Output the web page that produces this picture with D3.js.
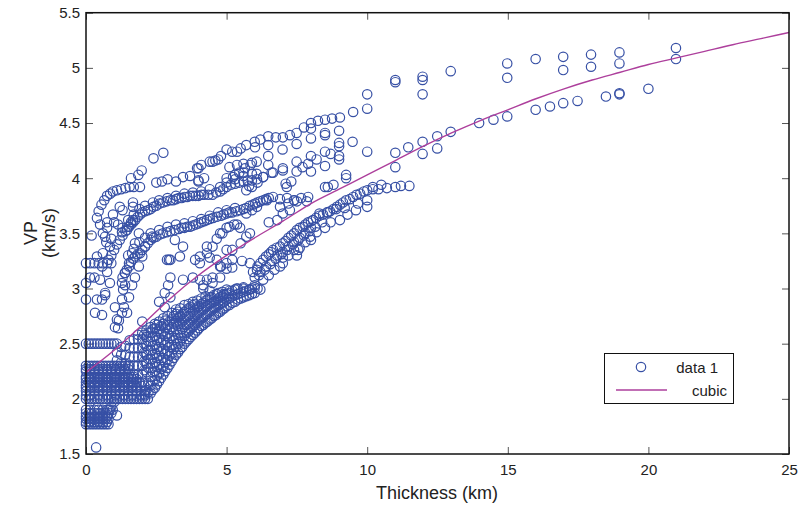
<!DOCTYPE html>
<html><head><meta charset="utf-8">
<script src="https://cdn.jsdelivr.net/npm/d3@7"></script>
<style>body{margin:0;background:#fff}svg{display:block}text{font-family:"Liberation Sans",Arial,Helvetica,sans-serif;fill:#222}</style>
</head><body><svg id="c" width="800" height="506"></svg>
<script>
// ---------- DATA ----------
const xTicks = [0, 5, 10, 15, 20, 25];
const yTicks = [1.5, 2, 2.5, 3, 3.5, 4, 4.5, 5, 5.5];
const legendLabels = ["data 1", "cubic"];

// horizontal rows of samples at small thickness
const bandRowsY = [3.23, 2.5, 2.3, 2.27, 2.25, 2.2, 2.18, 2.15, 2.12, 2.1, 2.07, 2.03, 2.0, 1.9, 1.87, 1.84, 1.82, 1.79, 1.77];
const bandRowsX = [
  [0, 0.15, 0.3, 0.45, 0.6, 0.75, 0.9],
  [0, 0.1, 0.2, 0.3, 0.4, 0.5, 0.6, 0.7, 0.8, 0.9, 1.0, 1.1],
  [0, 0.1, 0.2, 0.3, 0.4, 0.5, 0.6, 0.7, 0.8, 0.9, 1.0, 1.1, 1.2, 1.3, 1.4, 1.5],
  [0, 0.15, 0.3, 0.45, 0.6, 0.75, 0.9, 1.05, 1.2, 1.35, 1.5],
  [0, 0.15, 0.3, 0.45, 0.6, 0.75, 0.9, 1.05, 1.2],
  [0, 0.1, 0.2, 0.3, 0.4, 0.5, 0.6, 0.7, 0.8, 0.9, 1.0, 1.1, 1.2, 1.3, 1.4, 1.5, 1.6, 1.7],
  [0, 0.15, 0.3, 0.45, 0.6, 0.75, 0.9, 1.05, 1.2, 1.35, 1.5, 1.65, 1.8],
  [0, 0.1, 0.2, 0.3, 0.4, 0.5, 0.6, 0.7, 0.8, 0.9, 1.0, 1.1, 1.2, 1.3, 1.4, 1.5, 1.6, 1.7, 1.8, 1.9, 2.0],
  [0, 0.15, 0.3, 0.45, 0.6, 0.75, 0.9, 1.05, 1.2, 1.35, 1.5, 1.65, 1.8, 1.95],
  [0, 0.2, 0.4, 0.6, 0.8, 1.0, 1.2, 1.4, 1.6, 1.8],
  [0, 0.15, 0.3, 0.45, 0.6, 0.75, 0.9, 1.05, 1.2, 1.35, 1.5, 1.65, 1.8, 1.95, 2.1],
  [0, 0.15, 0.3, 0.45, 0.6, 0.75, 0.9, 1.05, 1.2, 1.35, 1.5, 1.65, 1.8, 1.95, 2.1],
  [0, 0.1, 0.2, 0.3, 0.4, 0.5, 0.6, 0.7, 0.8, 0.9, 1.0, 1.1, 1.2, 1.3, 1.4, 1.5, 1.6, 1.7, 1.8, 1.9, 2.0, 2.1, 2.2],
  [0, 0.15, 0.3, 0.45, 0.6, 0.75, 0.85],
  [0, 0.1, 0.2, 0.3, 0.4, 0.5, 0.6, 0.7, 0.8, 0.9],
  [0, 0.15, 0.3, 0.45, 0.6, 0.75],
  [0, 0.1, 0.2, 0.3, 0.4, 0.5, 0.6, 0.7, 0.8],
  [0, 0.15, 0.3, 0.45, 0.6, 0.75],
  [0, 0.1, 0.2, 0.3, 0.4, 0.5, 0.6, 0.7, 0.8]
];

// dense rising band: columns of samples
const slopeColX = [1.1, 1.25, 1.4, 1.55, 1.7, 1.85, 2.0, 2.15, 2.3, 2.45, 2.6, 2.75, 2.9, 3.05, 3.2, 3.35, 3.5, 3.65, 3.8, 3.95, 4.1, 4.25, 4.4, 4.55, 4.7, 4.85, 5.0, 5.2, 5.4, 5.6, 5.8, 6.0, 6.2];
const slopeColY = [
  [2.35, 2.42],
  [2.25, 2.33, 2.4, 2.47],
  [2.25, 2.32, 2.4, 2.48],
  [2.3, 2.38, 2.46, 2.53],
  [2.22, 2.3, 2.38, 2.46, 2.54],
  [2.22, 2.3, 2.38, 2.46, 2.54, 2.58],
  [2.22, 2.3, 2.38, 2.46, 2.54, 2.6],
  [2.08, 2.24, 2.32, 2.4, 2.48, 2.56, 2.62],
  [2.05, 2.12, 2.2, 2.28, 2.36, 2.44, 2.52, 2.6, 2.65],
  [2.1, 2.17, 2.25, 2.33, 2.41, 2.49, 2.57, 2.64, 2.68],
  [2.16, 2.23, 2.31, 2.39, 2.47, 2.55, 2.63, 2.7],
  [2.22, 2.29, 2.37, 2.45, 2.53, 2.61, 2.68, 2.73],
  [2.28, 2.35, 2.43, 2.51, 2.59, 2.67, 2.75],
  [2.34, 2.41, 2.49, 2.57, 2.65, 2.72, 2.78],
  [2.4, 2.47, 2.55, 2.63, 2.7, 2.77, 2.81],
  [2.45, 2.52, 2.6, 2.68, 2.75, 2.82],
  [2.5, 2.57, 2.65, 2.72, 2.79, 2.85],
  [2.54, 2.61, 2.68, 2.75, 2.82, 2.86],
  [2.58, 2.65, 2.72, 2.79, 2.85, 2.88],
  [2.62, 2.69, 2.76, 2.83, 2.89],
  [2.66, 2.73, 2.8, 2.86, 2.91],
  [2.69, 2.76, 2.83, 2.89, 2.93],
  [2.72, 2.79, 2.86, 2.92],
  [2.75, 2.82, 2.88, 2.94],
  [2.78, 2.85, 2.91, 2.96],
  [2.81, 2.87, 2.93, 2.97],
  [2.84, 2.9, 2.95, 2.99],
  [2.87, 2.93, 2.98],
  [2.9, 2.95, 3.0],
  [2.92, 2.97, 3.0],
  [2.94, 2.99],
  [2.96, 3.01],
  [2.99]
];
const slopeColX2 = [2.07, 2.22, 2.37, 2.52, 2.67, 2.82, 2.97, 3.12, 3.27, 3.42, 3.57, 3.72, 3.87, 4.02, 4.17, 4.32, 4.47, 4.62, 4.77, 4.92, 5.1, 5.3, 5.5, 5.7, 5.9];
const slopeColY2 = [
  [2.04, 2.12, 2.26, 2.34, 2.42, 2.5, 2.58],
  [2.06, 2.14, 2.28, 2.36, 2.44, 2.52, 2.6],
  [2.08, 2.16, 2.24, 2.32, 2.4, 2.48, 2.56, 2.63],
  [2.13, 2.21, 2.29, 2.37, 2.45, 2.53, 2.61, 2.67],
  [2.19, 2.27, 2.35, 2.43, 2.51, 2.59, 2.66],
  [2.25, 2.33, 2.41, 2.49, 2.57, 2.64, 2.71],
  [2.31, 2.39, 2.47, 2.55, 2.63, 2.7],
  [2.37, 2.45, 2.53, 2.61, 2.68, 2.75],
  [2.42, 2.5, 2.58, 2.66, 2.73, 2.79],
  [2.47, 2.55, 2.63, 2.7, 2.77],
  [2.52, 2.6, 2.67, 2.74, 2.8],
  [2.56, 2.63, 2.7, 2.77, 2.83],
  [2.6, 2.67, 2.74, 2.81, 2.86],
  [2.64, 2.71, 2.78, 2.84],
  [2.67, 2.74, 2.81, 2.87],
  [2.7, 2.77, 2.84, 2.9],
  [2.73, 2.8, 2.87, 2.92],
  [2.76, 2.83, 2.89],
  [2.79, 2.86, 2.92],
  [2.82, 2.88, 2.94],
  [2.85, 2.91, 2.96],
  [2.88, 2.94, 2.99],
  [2.91, 2.96],
  [2.93, 2.98],
  [2.95, 3.0]
];

// scattered samples, left part
const leftPts = [
  [0.36,1.56],[0.9,1.93],[1.0,1.97],[0.8,1.9],[1.1,1.85],[0.95,1.9],[0.4,1.92],
  [0.32,2.78],[0.57,2.76],[0.39,2.9],[0.57,2.9],[0.68,2.94],[1.03,2.65],[1.14,2.64],[1.1,2.72],[1.17,2.71],
  [1.28,2.78],[1.35,2.83],[1.03,2.83],[1.28,2.9],[1.46,2.78],[2.0,2.7],[1.53,2.92],[1.32,2.99],[1.39,3.03],
  [1.64,3.03],[1.74,3.1],[1.88,3.2],[2.0,3.29],[2.1,3.38],[2.35,3.47],[1.28,3.05],[1.39,3.14],[1.53,3.23],
  [1.64,3.32],[1.74,3.41],[1.88,3.5],[0.3,3.1],[0.5,3.08],[0.14,3.1],[0.39,3.29],[0.6,3.32],[0.57,3.2],
  [0.85,3.05],[0.75,3.15],[0.68,2.96],[0.6,3.5],[0.68,3.47],[0.75,3.6],[0.96,3.67],[0.2,3.48],[0.8,3.26],
  [0.9,3.3],[1.0,3.35],[1.1,3.4],[1.2,3.44],[1.3,3.48],[1.4,3.52],[1.5,3.56],[1.6,3.6],[1.67,3.62],
  [0.39,3.64],[0.45,3.7],[0.55,3.76],[0.65,3.8],[0.75,3.84],[0.86,3.86],[0.96,3.88],[1.1,3.89],[1.25,3.9],
  [1.4,3.91],[1.55,3.92],[1.7,3.92],[1.92,3.92],[1.2,3.74],[1.3,3.71],[1.67,3.78],[1.67,3.74],[0.75,3.55],
  [0.9,3.45],[0.72,3.42],[0.85,3.38],[1.86,4.03],[1.98,4.07],[2.4,4.18],[2.75,4.23],[1.6,4.0],[0.5,3.58],
  [1.0,3.6],[1.14,3.58],[1.28,3.51],[0,3.05],[0,2.9]
];

// curved tracks between 3 and 4.1 km/s
const midTracks = [
  [1.46,3.53],[1.6,3.58],[1.75,3.62],[1.92,3.67],[2.1,3.7],[2.3,3.72],[2.5,3.75],[2.74,3.78],[3.0,3.8],[3.2,3.81],
  [3.4,3.82],[3.6,3.83],[3.8,3.84],[4.0,3.84],[4.2,3.85],[4.5,3.85],[4.77,3.88],[5.0,3.92],[5.3,3.95],[5.6,3.97],
  [5.9,3.98],[6.08,3.99],
  [1.3,3.55],[1.5,3.62],[1.7,3.67],[1.9,3.72],[2.1,3.75],[2.38,3.78],[2.6,3.8],[2.9,3.82],[3.2,3.84],[3.5,3.86],
  [3.8,3.87],[4.1,3.88],[4.4,3.9],[4.77,3.92],[5.0,3.96],[5.3,3.99],[5.6,4.02],[5.9,4.04],[6.07,4.04],[6.3,4.01],
  [6.6,4.05],[7.0,4.09],
  [1.53,3.56],[1.68,3.6],[1.84,3.65],[2.0,3.69],[2.2,3.71],[2.4,3.74],[2.62,3.77],[2.87,3.79],[3.1,3.8],[3.3,3.82],
  [3.5,3.83],[3.7,3.84],[3.9,3.84],[4.1,3.85],[4.35,3.85],[4.63,3.87],[4.88,3.9],[5.15,3.94],[5.45,3.96],[5.75,3.98],
  [1.3,3.1],[1.45,3.17],[1.6,3.24],[1.75,3.29],[1.92,3.32],[2.1,3.38],[2.3,3.44],[2.5,3.47],[2.74,3.5],[3.0,3.52],
  [3.3,3.54],[3.5,3.55],[3.7,3.56],[3.9,3.58],[4.1,3.6],[4.3,3.62],[4.52,3.64],[4.8,3.66],[5.0,3.68],[5.2,3.69],
  [5.48,3.71],[5.7,3.73],[5.94,3.76],[6.1,3.78],[6.3,3.8],[6.5,3.82],[6.65,3.83],[6.9,3.81],[7.15,3.82],[7.4,3.8],
  [7.65,3.82],[7.9,3.83],
  [1.38,3.14],[1.53,3.2],[1.68,3.27],[1.84,3.31],[2.0,3.35],[2.2,3.41],[2.4,3.46],[2.62,3.49],[2.87,3.51],[3.15,3.53],
  [3.4,3.55],[3.6,3.56],[3.8,3.57],[4.0,3.59],[4.2,3.61],[4.4,3.63],[4.65,3.65],[4.9,3.67],[5.1,3.69],[5.35,3.7],
  [5.6,3.72],[5.82,3.75],[6.02,3.77],[6.2,3.79],[6.4,3.81],
  [1.5,3.3],[1.7,3.36],[1.9,3.42],[2.1,3.46],[2.3,3.5],[2.6,3.53],[2.9,3.56],[3.2,3.58],[3.5,3.59],[3.8,3.61],
  [4.1,3.63],[4.4,3.66],[4.7,3.69],[5.0,3.71],[5.3,3.73],[5.7,3.68],[5.9,3.71],[6.08,3.74],[6.5,3.6],[6.8,3.62],
  [7.0,3.68],[7.25,3.71],[6.9,3.74],[7.2,3.77],[7.5,3.79],[7.85,3.79]
];

// upper tracks from 2.5 to 11.5 km
const upperTracks = [
  [2.5,3.96],[2.7,3.97],[2.9,3.99],[3.2,3.97],[3.45,4.01],[3.7,4.02],[3.95,4.09],[4.0,3.98],[4.2,4.0],
  [4.4,4.15],[4.6,4.16],[4.8,4.2],[5.0,4.26],[5.2,4.24],[5.37,4.24],[5.5,4.27],[5.7,4.3],[6.0,4.33],[6.2,4.35],
  [6.48,4.38],[6.75,4.37],[7.0,4.37],[7.25,4.39],[7.49,4.41],[7.75,4.46],[8.0,4.5],[8.25,4.52],[8.5,4.53],
  [8.75,4.54],[9.03,4.55],[9.5,4.6],[10.0,4.63],[10.0,4.76],[11.0,4.87],[11.0,4.89],
  [6.01,4.28],[6.48,4.3],[6.99,4.26],[7.49,4.31],[8.0,4.36],[8.5,4.39],[9.0,4.43],[8.0,4.45],[8.5,4.41],[9.0,4.32],
  [5.23,4.01],[5.45,4.05],[5.65,4.09],[5.85,4.12],[6.07,4.15],[6.48,4.2],[6.48,4.12],[7.0,4.07],[7.49,4.15],
  [8.0,4.2],[8.5,4.24],[9.0,4.29],[9.48,4.33],[9.0,4.2],[9.0,4.17],[8.5,4.11],[8.0,4.06],[7.49,4.06],[7.7,4.1],
  [7.9,4.13],[8.2,4.17],[8.7,4.22],[9.25,4.03],[9.25,4.0],[8.5,3.92],[7.14,3.92],[7.1,3.95],[7.3,3.97],[5.8,3.93],
  [6.1,3.96],[6.3,4.01],[6.65,4.05],[4.0,4.09],[4.0,3.97],[4.1,4.12],[4.5,4.15],[4.7,4.17],[5.1,4.1],[5.37,4.12],
  [5.6,4.13],[5.9,4.14],[5.0,4.0],[5.3,4.03],[5.6,4.05],[5.7,3.89],[5.9,3.92],[6.43,3.8],[7.4,3.8],[8.6,3.92],
  [8.8,3.94],[10.0,4.24],[11.0,4.23],[11.0,4.1]
];

// lower hump tracks 3 to 4 km/s, 3-11 km
const lowerTracks = [
  [5.94,3.15],[6.1,3.2],[6.3,3.26],[6.5,3.31],[6.65,3.35],[6.9,3.38],[7.1,3.43],[7.3,3.48],[7.5,3.53],[7.72,3.56],
  [7.9,3.6],[8.07,3.62],[8.3,3.66],[8.57,3.69],[8.8,3.72],[9.03,3.76],[9.25,3.8],[9.5,3.83],[9.75,3.86],[10.0,3.89],
  [10.2,3.92],[10.5,3.94],
  [6.2,3.23],[6.4,3.29],[6.58,3.33],[6.78,3.37],[7.0,3.41],[7.2,3.46],[7.4,3.5],[7.6,3.55],[7.8,3.58],[8.0,3.61],
  [8.18,3.64],[8.43,3.67],[8.68,3.7],[8.92,3.74],[9.14,3.78],[9.38,3.81],[9.62,3.85],[9.88,3.88],
  [6.15,3.12],[6.35,3.17],[6.55,3.22],[6.75,3.27],[6.95,3.31],[7.15,3.35],[7.35,3.4],[7.55,3.44],[7.75,3.48],
  [7.95,3.52],[8.15,3.56],[8.4,3.6],
  [6.08,3.17],[6.3,3.08],[6.5,3.12],[6.7,3.17],[6.9,3.2],[7.0,3.23],[7.0,3.28],[7.2,3.3],[7.4,3.35],[7.55,3.35],
  [7.6,3.37],[7.8,3.42],[7.97,3.47],[8.0,3.44],[8.2,3.51],[8.5,3.55],[8.7,3.6],[9.03,3.62],[9.3,3.67],[9.6,3.71],
  [10.0,3.74],[10.0,3.8],[7.5,3.3],[8.3,3.68],[8.6,3.69],[8.9,3.72],[9.2,3.73],[9.67,3.77],
  [6.0,3.1],[6.2,3.15],[6.4,3.2],[6.6,3.25],[6.8,3.3],[7.0,3.33],[7.2,3.38],[7.4,3.42],[7.6,3.46],[7.8,3.5],[8.0,3.55],
  [10.2,3.9],[10.4,3.9],[10.7,3.91],[11.0,3.92],[11.2,3.93],[11.5,3.93],
  [3.45,3.38],[3.88,3.26],[4.05,3.29],[4.3,3.32],[4.5,3.38],[4.65,3.45],[4.85,3.5],[5.1,3.56],[5.37,3.58],[4.3,3.38],
  [4.4,3.28],[4.65,3.26],[4.8,3.2],[5.0,3.18],[5.2,3.19],[5.55,3.25],[5.0,3.35],[5.2,3.35],[5.5,3.41],[5.7,3.47],
  [5.83,3.5],[4.77,3.5],[5.0,3.55],[5.27,3.58],[5.48,3.55],[3.45,3.08],[3.8,3.1],[4.05,3.08],[4.3,3.08],[4.5,3.1],
  [4.5,3.05],[4.77,3.1],[4.17,3.0],[4.4,2.98],[4.65,2.95],[4.9,2.95],[5.1,2.98],[5.35,3.0],[5.6,3.01],[5.83,2.99],
  [6.1,3.0],[6.0,3.03],[2.88,3.26],[3.0,3.1],[3.0,3.26],[3.34,3.29],[4.05,3.23],[4.77,3.2],[5.0,3.23],[5.2,3.26],
  [5.83,3.23],[2.95,3.26],[3.16,3.44],[2.8,2.96],[2.6,2.88],[2.8,2.83],[2.92,3.03],[3.0,2.92],[4.17,3.03]
];

// far samples beyond 11 km
const farPts = [
  [11.97,4.92],[11.97,4.89],[11.97,4.76],[12.97,4.97],[14.98,5.04],[14.98,4.91],[15.99,5.08],[16.97,5.1],[16.97,4.98],
  [17.96,5.12],[17.96,5.01],[18.97,5.14],[18.97,5.04],[20.98,5.18],[20.98,5.08],
  [11.46,4.28],[11.97,4.33],[11.97,4.22],[12.49,4.38],[12.49,4.27],[12.97,4.42],[13.98,4.5],[14.49,4.53],[14.98,4.56],
  [15.99,4.62],[16.5,4.65],[16.97,4.68],[17.48,4.7],[18.49,4.74],[18.97,4.77],[18.97,4.76],[20.0,4.81]
];

// cubic fit curve
const cubicX = [0, 1, 2, 3, 4, 5, 6, 7, 8, 9, 10, 11, 12, 13, 14, 15, 16, 17, 18, 19, 20, 21, 22, 23, 24, 25];
const cubicY = [2.24, 2.44, 2.67, 2.91, 3.12, 3.30, 3.46, 3.61, 3.77, 3.90, 4.03, 4.16, 4.29, 4.41, 4.52, 4.62, 4.72, 4.81, 4.89, 4.96, 5.03, 5.09, 5.15, 5.21, 5.265, 5.32];

// ---------- BUILD POINTS ----------
const points = [];
bandRowsY.forEach((y, i) => bandRowsX[i].forEach(x => points.push([x, y])));
slopeColX.forEach((x, i) => slopeColY[i].forEach(y => points.push([x, y])));
slopeColX2.forEach((x, i) => slopeColY2[i].forEach(y => points.push([x, y])));
[leftPts, midTracks, upperTracks, lowerTracks, farPts].forEach(a => a.forEach(p => points.push(p)));

// ---------- DRAW ----------
const L = 86, R = 789, T = 12.7, B = 454;
const svg = d3.select("#c");
const x = d3.scaleLinear().domain([0, 25]).range([L, R]);
const y = d3.scaleLinear().domain([1.5, 5.5]).range([B, T]);
const blue = "#3750a5", mag = "#ad3f9c";

const fmt = d => String(d);
const axB = svg.append("g").attr("transform", `translate(0,${B})`)
  .call(d3.axisBottom(x).tickValues(xTicks).tickFormat(fmt).tickSize(-7).tickPadding(10));
const axL = svg.append("g").attr("transform", `translate(${L},0)`)
  .call(d3.axisLeft(y).tickValues(yTicks).tickFormat(fmt).tickSize(-7).tickPadding(6));
const axT = svg.append("g").attr("transform", `translate(0,${T})`)
  .call(d3.axisTop(x).tickValues(xTicks).tickFormat("").tickSize(-7));
const axR = svg.append("g").attr("transform", `translate(${R},0)`)
  .call(d3.axisRight(y).tickValues(yTicks).tickFormat("").tickSize(-7));
[axB, axL, axT, axR].forEach(g => {
  g.select(".domain").remove();
  g.selectAll(".tick line").attr("stroke", "#555").attr("stroke-width", 1);
  g.selectAll("text").attr("font-size", 15).attr("fill", "#222")
    .attr("font-family", '"Liberation Sans", Arial, sans-serif');
});

const plot = svg.append("g");
plot.selectAll("circle").data(points).join("circle")
  .attr("cx", d => x(d[0])).attr("cy", d => y(d[1])).attr("r", 4.7)
  .attr("fill", "none").attr("stroke", blue).attr("stroke-width", 1.2);

const line = d3.line().x(d => x(d[0])).y(d => y(d[1])).curve(d3.curveMonotoneX);
plot.append("path").datum(cubicX.map((v, i) => [v, cubicY[i]]))
  .attr("d", line).attr("fill", "none").attr("stroke", mag).attr("stroke-width", 1.4);

svg.append("rect").attr("x", L).attr("y", T).attr("width", R - L).attr("height", B - T)
  .attr("fill", "none").attr("stroke", "#111").attr("stroke-width", 1.5);

// axis labels
svg.append("text").attr("x", 437).attr("y", 499).attr("text-anchor", "middle")
  .attr("font-size", 18).text("Thickness (km)");
const yl = svg.append("text").attr("transform", "translate(0,233) rotate(-90)").attr("text-anchor", "middle").attr("font-size", 18);
yl.append("tspan").attr("x", 0).attr("y", 37).text("VP");
yl.append("tspan").attr("x", 0).attr("y", 55).text("(km/s)");

// legend
const lg = svg.append("g");
lg.append("rect").attr("x", 604.5).attr("y", 353.5).attr("width", 129).attr("height", 50)
  .attr("fill", "#fff").attr("stroke", "#111").attr("stroke-width", 1);
lg.append("circle").attr("cx", 641).attr("cy", 367).attr("r", 4.7).attr("fill", "none").attr("stroke", blue).attr("stroke-width", 1.2);
lg.append("line").attr("x1", 616).attr("x2", 667).attr("y1", 390).attr("y2", 390).attr("stroke", mag).attr("stroke-width", 1.4);
lg.append("text").attr("x", 718).attr("y", 373).attr("text-anchor", "end").attr("font-size", 15).text(legendLabels[0]);
lg.append("text").attr("x", 727).attr("y", 396).attr("text-anchor", "end").attr("font-size", 15).text(legendLabels[1]);
</script></body></html>
